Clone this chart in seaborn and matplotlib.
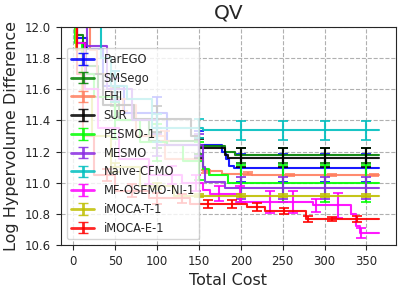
import matplotlib
matplotlib.use("Agg")

import matplotlib.pyplot as plt
import seaborn as sns
import numpy as np

# series names / colours (legend order)
names = ["ParEGO", "SMSego", "EHI", "SUR", "PESMO-1", "MESMO",
         "Naive-CFMO", "MF-OSEMO-NI-1", "iMOCA-T-1", "iMOCA-E-1"]
colors = ["blue", "green", "#ff7f5f", "black", "lime", "blueviolet",
          "c", "magenta", "y", "red"]

# step curves: cost breakpoints and log HV difference
parego_x = [0, 4, 16, 35, 60, 112, 178, 182, 186, 192, 365]
parego_y = [12.6, 11.93, 11.86, 11.62, 11.45, 11.24, 11.2, 11.15, 11.11, 11.094, 11.094]
smsego_x = [0, 3, 12, 30, 55, 90, 150, 181, 193, 365]
smsego_y = [12.6, 11.95, 11.75, 11.55, 11.4, 11.27, 11.236, 11.197, 11.176, 11.176]
ehi_x = [0, 20, 28, 45, 75, 110, 155, 178, 213, 365]
ehi_y = [12.6, 11.85, 11.7, 11.5, 11.3, 11.15, 11.075, 11.058, 11.049, 11.049]
sur_x = [0, 5, 15, 35, 72, 141, 150, 181, 185, 365]
sur_y = [12.6, 11.9, 11.7, 11.5, 11.41, 11.3, 11.22, 11.18, 11.161, 11.161]
pesmo_x = [0, 2, 10, 25, 50, 80, 112, 131, 155, 162, 185, 365]
pesmo_y = [12.6, 11.9, 11.7, 11.55, 11.4, 11.26, 11.24, 11.14, 11.09, 11.047, 10.997, 10.997]
mesmo_x = [0, 6, 16, 40, 70, 100, 155, 157, 181, 365]
mesmo_y = [12.6, 12.0, 11.88, 11.6, 11.4, 11.24, 11.1, 11.004, 10.968, 10.968]
naive_x = [0, 28, 33, 45, 64, 94, 155, 365]
naive_y = [12.6, 12.1, 11.8, 11.62, 11.537, 11.35, 11.337, 11.337]
osemo_x = [0, 5, 14, 30, 55, 90, 130, 155, 163, 200, 286, 332, 338, 342, 365]
osemo_y = [12.6, 11.9, 11.6, 11.35, 11.15, 11.05, 11.0, 10.955, 10.928, 10.875,
           10.854, 10.80, 10.72, 10.675, 10.675]
imoca_t_x = [0, 3, 10, 22, 45, 80, 120, 365]
imoca_t_y = [12.6, 11.85, 11.55, 11.3, 11.1, 10.98, 10.918, 10.918]
imoca_e_x = [0, 4, 12, 25, 50, 90, 139, 208, 229, 278, 365]
imoca_e_y = [12.6, 11.7, 11.3, 11.05, 10.95, 10.9, 10.863, 10.843, 10.821, 10.767, 10.767]

# error bar positions and half widths
every50 = [50, 100, 150, 200, 250, 300, 350]
parego_err = [0.1, 0.1, 0.09, 0.09, 0.09, 0.09, 0.09]
smsego_err = [0.06, 0.05, 0.05, 0.05, 0.05, 0.05, 0.05]
ehi_ex = [59, 109, 159, 209, 259, 309, 359]
ehi_err = [0.04, 0.03, 0.01, 0.008, 0.008, 0.008, 0.008]
sur_err = [0.08, 0.086, 0.06, 0.06, 0.06, 0.06, 0.06]
pesmo_err = [0.12, 0.12, 0.12, 0.12, 0.12, 0.12, 0.12]
mesmo_err = [0.07, 0.07, 0.07, 0.07, 0.07, 0.07, 0.07]
naive_err = [0.1, 0.09, 0.06, 0.06, 0.06, 0.06, 0.06]
osemo_ex = [90, 118, 146, 174, 199, 235, 262, 290, 316, 344]
osemo_err = [0.06, 0.06, 0.05, 0.048, 0.05, 0.07, 0.07, 0.043, 0.08, 0.032]
imoca_t_err = [0.03, 0.02, 0.01, 0.01, 0.01, 0.01, 0.01]
imoca_e_ex = [40, 70, 100, 130, 161, 189, 219, 252, 280, 309, 339]
imoca_e_err = [0.04, 0.04, 0.035, 0.03, 0.024, 0.024, 0.024, 0.02, 0.02, 0.015, 0.02]

curves = [(parego_x, parego_y, every50, parego_err),
          (smsego_x, smsego_y, every50, smsego_err),
          (ehi_x, ehi_y, ehi_ex, ehi_err),
          (sur_x, sur_y, every50, sur_err),
          (pesmo_x, pesmo_y, every50, pesmo_err),
          (mesmo_x, mesmo_y, every50, mesmo_err),
          (naive_x, naive_y, every50, naive_err),
          (osemo_x, osemo_y, osemo_ex, osemo_err),
          (imoca_t_x, imoca_t_y, every50, imoca_t_err),
          (imoca_e_x, imoca_e_y, imoca_e_ex, imoca_e_err)]


def step_at(xs, ys, q):
    idx = np.searchsorted(xs, q, side="right") - 1
    return np.asarray(ys)[idx]


sns.set_style("ticks", {"axes.grid": True, "grid.linestyle": "--",
                        "grid.color": "#b0b0b0"})
plt.rcParams["font.family"] = ["DejaVu Sans"]

fig, ax = plt.subplots(figsize=(4.05, 2.91), dpi=100)
fig.subplots_adjust(left=0.15, right=0.977, bottom=0.158, top=0.907)

for (xs, ys, ex, err), name, c in zip(curves, names, colors):
    sns.lineplot(x=xs, y=ys, drawstyle="steps-post", color=c, lw=1.5,
                 alpha=0.9, ax=ax, legend=False, errorbar=None)
    ey = step_at(xs, ys, ex)
    ax.errorbar(ex, ey, yerr=err, fmt="none", ecolor=c, elinewidth=1.5,
                capsize=3.5, capthick=1.3, alpha=0.9)
    # proxy for the legend entry
    ax.errorbar([np.nan], [np.nan], yerr=[0.05], color=c, lw=2,
                capsize=3.5, alpha=0.85, label=name)

ax.set_xlim(-15, 385)
ax.set_ylim(10.6, 12.0)
ax.set_xticks([0, 50, 100, 150, 200, 250, 300, 350])
ax.set_yticks([10.6, 10.8, 11.0, 11.2, 11.4, 11.6, 11.8, 12.0])
ax.tick_params(labelsize=8.5)
ax.set_xlabel("Total Cost", fontsize=11.5)
ax.set_ylabel("Log Hypervolume Difference", fontsize=11.5)
ax.set_title("QV", fontsize=14.5)
ax.legend(loc="lower left", fontsize=8.3, framealpha=0.8)

plt.savefig("out.png", dpi=100)
plt.close()
